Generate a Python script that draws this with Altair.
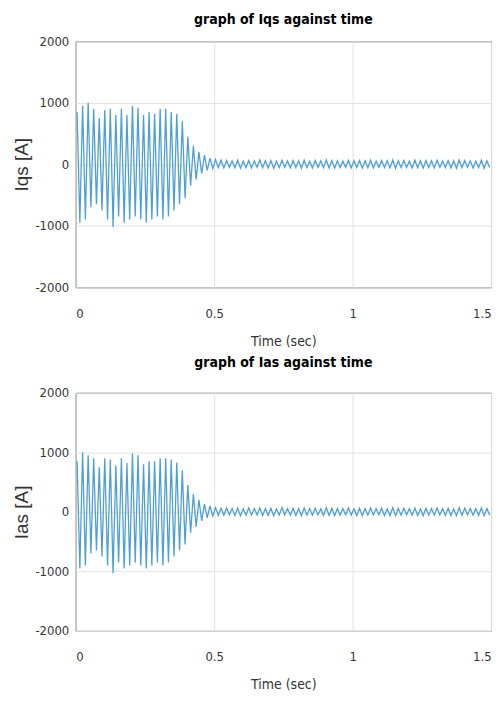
import altair as alt
import pandas as pd

# Time axis / tick values
x_ticks = [0, 0.5, 1, 1.5]
y_ticks = [-2000, -1000, 0, 1000, 2000]

# Sampling of the peaks (50 Hz waveform: one positive and one negative peak per 0.02 s)
peak_start_pos = 0.005
peak_start_neg = 0.015
peak_step = 0.02

# Positive and negative peak values: Iqs
iqs_pos = [850, 950, 1000, 900, 750, 880, 900, 800, 900, 800, 950, 920, 800, 850, 820,
           900, 900, 850, 820, 700, 450, 300, 200, 150, 100,
           75, 65, 60, 55, 65, 50, 60, 55, 70, 55, 60, 50, 65, 55, 60, 55, 65, 50, 60, 55,
           70, 60, 55, 50, 65, 55, 60, 55, 65, 50, 60, 55, 70, 55, 60, 50, 65, 55, 60, 55,
           65, 50, 60, 55, 70, 60, 55, 50, 65, 55]
iqs_neg = [-950, -900, -700, -650, -750, -900, -1020, -850, -950, -900, -850, -900, -950, -900, -850,
           -900, -850, -750, -650, -550, -350, -250, -150, -100, -70,
           -55, -60, -50, -55, -65, -55, -60, -50, -55, -60, -65, -55, -50, -60, -55,
           -65, -55, -60, -50, -55, -60, -65, -55, -50, -60, -55, -65, -55, -60, -50,
           -55, -60, -65, -55, -50, -60, -55, -65, -55, -60, -50, -55, -60, -65, -55,
           -50, -60, -55, -65, -55]

# Ias
ias_pos = [850, 1000, 950, 900, 750, 900, 880, 780, 900, 820, 980, 950, 800, 850, 850,
           900, 900, 880, 830, 700, 450, 300, 200, 130, 100,
           70, 60, 65, 55, 60, 50, 65, 55, 65, 55, 60, 50, 70, 55, 60, 55, 65, 55, 60, 50,
           70, 60, 55, 55, 65, 50, 60, 55, 65, 55, 60, 50, 70, 55, 60, 55, 65, 50, 60, 55,
           65, 55, 60, 50, 70, 60, 55, 55, 65, 55]
ias_neg = [-950, -900, -700, -650, -750, -900, -1030, -850, -950, -900, -850, -900, -950, -900, -850,
           -900, -850, -750, -650, -550, -350, -250, -150, -100, -70,
           -60, -55, -50, -60, -65, -55, -55, -50, -60, -60, -65, -55, -50, -55, -60,
           -65, -55, -55, -50, -60, -60, -65, -55, -50, -55, -60, -65, -55, -55, -50,
           -60, -60, -65, -55, -50, -55, -60, -65, -55, -55, -50, -60, -60, -65, -55,
           -50, -55, -60, -65, -55]

LINE = "#4f9fd4"
NARROW = "Liberation Sans Narrow, DejaVu Sans Condensed, Liberation Sans, sans-serif"
WIDE = "Liberation Sans, Arial, sans-serif"


def make_df(pos, neg):
    rows = []
    for i, v in enumerate(pos):
        rows.append({"t": peak_start_pos + peak_step * i, "v": v})
    for i, v in enumerate(neg):
        rows.append({"t": peak_start_neg + peak_step * i, "v": v})
    return pd.DataFrame(rows).sort_values("t")


def panel(df, title, ytitle, h, title_offset):
    return alt.Chart(df).mark_line(color=LINE, strokeWidth=1.3).encode(
        x=alt.X("t:Q", scale=alt.Scale(domain=[0, 1.5], nice=False, zero=False),
                axis=alt.Axis(values=x_ticks, labelExpr="'' + datum.value", title="Time (sec)",
                              titlePadding=14, labelPadding=20)),
        y=alt.Y("v:Q", scale=alt.Scale(domain=[-2000, 2000], nice=False),
                axis=alt.Axis(values=y_ticks, labelExpr="'' + datum.value", title=ytitle,
                              titlePadding=3, labelPadding=7)),
    ).properties(
        width=417, height=h,
        title=alt.TitleParams(title, fontSize=14, fontWeight="bold", font=NARROW,
                              offset=title_offset, color="#000"),
    )


top = panel(make_df(iqs_pos, iqs_neg), "graph of Iqs against time", "Iqs [A]", 247, 8)
bottom = panel(make_df(ias_pos, ias_neg), "graph of Ias against time", "Ias [A]", 239, 17)

chart = alt.vconcat(top, bottom, spacing=6).properties(
    padding={"left": 12, "top": 11, "right": 10, "bottom": 5},
    background="white",
).configure_view(stroke="#333333", strokeWidth=1).configure_axis(
    grid=True, gridColor="#e3e3e3", ticks=False, domain=False,
    labelFont=NARROW, labelFontSize=13, labelColor="#333333",
    titleFont=NARROW, titleFontSize=14, titleColor="#333333", titleFontWeight="normal",
).configure_axisY(titleFont=WIDE, titleFontSize=19)

chart.save("out.html", embed_options={"renderer": "svg", "actions": False})
